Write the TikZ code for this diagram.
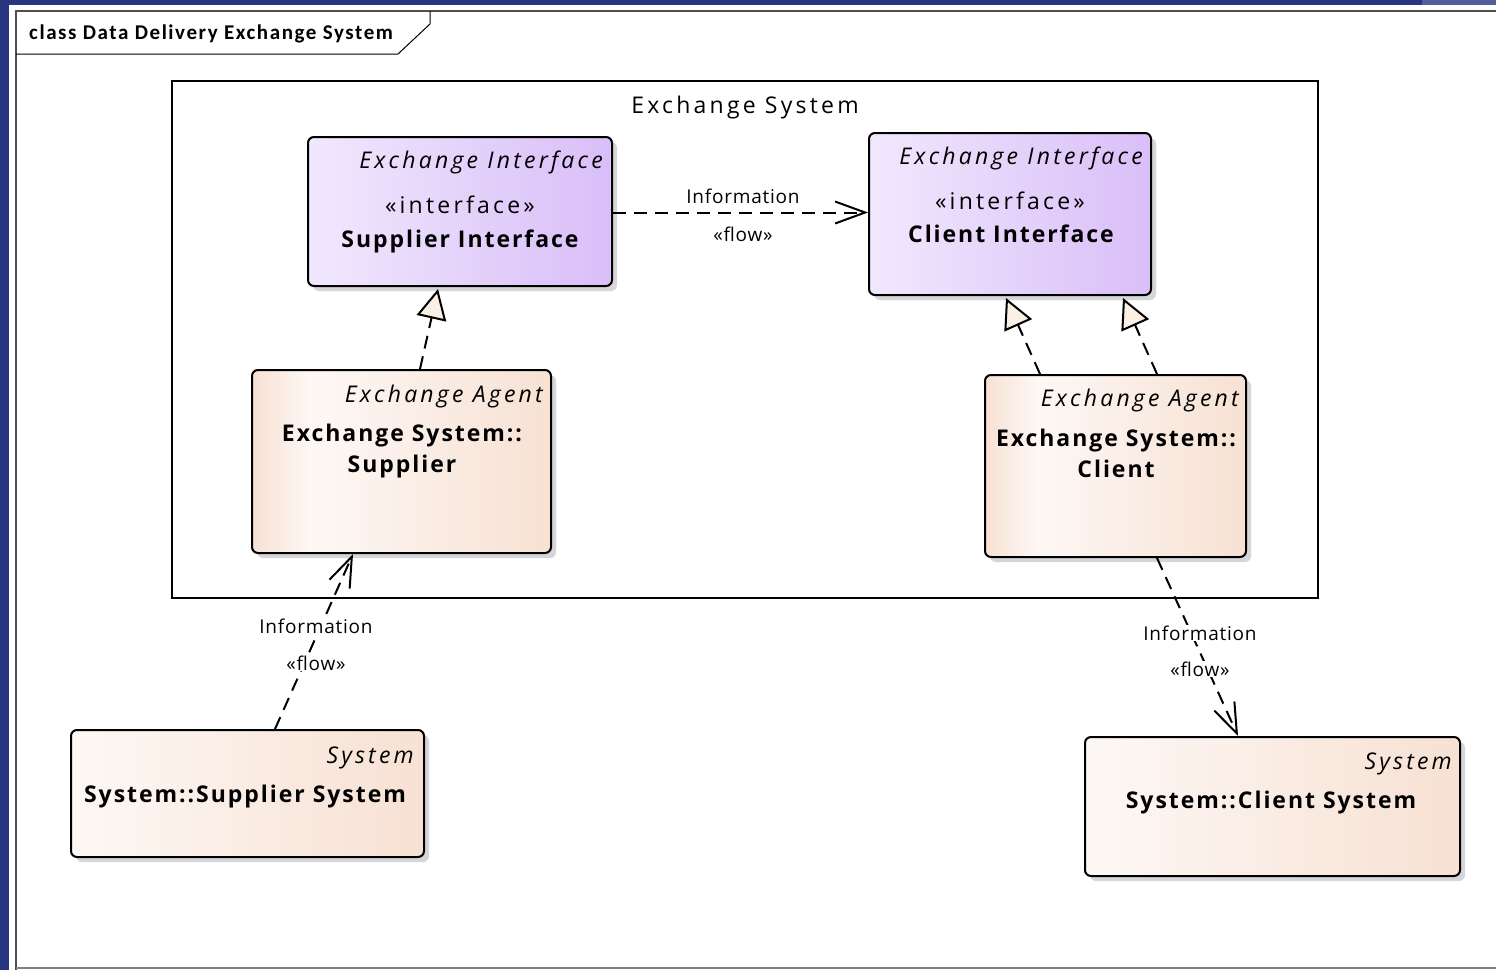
\documentclass[tikz,border=0pt]{standalone}
\usepackage{fontspec}
\setmainfont{Open Sans}[LetterSpace=14]
\newfontfamily\boldface{Open Sans}[LetterSpace=8.5]
\newfontfamily\labelface{Open Sans}[LetterSpace=4]
\newfontfamily\titlefont{Carlito}[LetterSpace=7.5]
\usetikzlibrary{arrows.meta,calc}

\definecolor{bandblue}{HTML}{283680}
\definecolor{ifL}{HTML}{F1E8FD}
\definecolor{ifR}{HTML}{D9BEF8}
\definecolor{pk}{HTML}{F7E1D3}
\definecolor{pkl}{HTML}{FDF8F5}
\definecolor{tricream}{HTML}{FAF0E3}
\definecolor{shadowgray}{HTML}{D6D6DA}
\definecolor{framegray}{HTML}{505050}

\pgfdeclarehorizontalshading{ifshade}{100bp}{color(0bp)=(ifL); color(25bp)=(ifL); color(75bp)=(ifR); color(100bp)=(ifR)}
\pgfdeclarehorizontalshading{agentshade}{100bp}{color(0bp)=(pk); color(25bp)=(pk); color(35bp)=(pkl); color(75bp)=(pk); color(100bp)=(pk)}
\pgfdeclarehorizontalshading{sysshade}{100bp}{color(0bp)=(pkl); color(25bp)=(pkl); color(75bp)=(pk); color(100bp)=(pk)}

\tikzset{
  elem/.style={draw=black, line width=2pt, rounded corners=6pt, anchor=north west,
    inner sep=0pt, preaction={fill=shadowgray, transform canvas={shift={(5pt,-5pt)}}}},
  ifbox/.style={elem, shading=ifshade},
  agentbox/.style={elem, shading=agentshade},
  sysbox/.style={elem, shading=sysshade},
  kind/.style={font=\fontsize{23}{27}\selectfont\itshape, inner sep=0pt, anchor=base east},
  stereo/.style={font=\fontsize{23}{27}\selectfont, inner sep=0pt, anchor=base},
  elname/.style={font=\boldface\fontsize{23}{31}\selectfont\bfseries, inner sep=0pt, anchor=base, align=center},
  flowlbl/.style={font=\labelface\fontsize{19}{22}\selectfont, fill=white, inner sep=1pt},
  dep/.style={line width=2pt, dash pattern=on 13pt off 8pt},
  flow/.style={dep, -{Straight Barb[length=30pt, width=22pt, line width=2pt]}},
  realize/.style={dep, -{Triangle[length=30pt, width=30pt, fill=tricream, line width=2pt]}},
}

\begin{document}
\begin{tikzpicture}[x=1pt, y=-1pt]
  \useasboundingbox (0,0) rectangle (1496,970);
  \fill[white] (0,0) rectangle (1496,970);

  % window edges
  \fill[bandblue] (0,0) rectangle (1496,5);
  \fill[bandblue!80!white] (1422,0) rectangle (1496,5);
  \fill[bandblue] (0,0) rectangle (9,970);

  % diagram frame and its name tab
  \draw[framegray, line width=2pt] (16,970) -- (16,11) -- (1496,11);
  \draw[gray, line width=2pt] (16,968) -- (1496,968);
  \draw[black, line width=1pt] (16,54) -- (398,54) -- (430,24) -- (430,11);
  \node[font=\titlefont\fontsize{21}{24}\selectfont\bfseries, anchor=base west, inner sep=0pt]
    (title) at (29,39) {class Data Delivery Exchange System};

  % system boundary
  \node[draw=black, line width=2pt, anchor=north west, inner sep=0pt,
        minimum width=1146pt, minimum height=517pt] (es) at (171,80) {};
  \node[stereo] (eslbl) at (745,113) {Exchange System};

  % interfaces
  \node[ifbox, minimum width=304pt, minimum height=149pt] (si) at (307,136) {};
  \node[kind] (sik) at (603,168) {Exchange Interface};
  \node[stereo] (sis) at (460,213) {«interface»};
  \node[elname] (sin) at (460,247) {Supplier Interface};

  \node[ifbox, minimum width=282pt, minimum height=162pt] (ci) at (868,132) {};
  \node[kind] (cik) at (1143,164) {Exchange Interface};
  \node[stereo] (cis) at (1010,209) {«interface»};
  \node[elname] (cin) at (1011,242) {Client Interface};

  % agents (two-line names sit on the baseline of their last line)
  \node[agentbox, minimum width=299pt, minimum height=183pt] (sup) at (251,369) {};
  \node[kind] (supk) at (543,402) {Exchange Agent};
  \node[elname] (supn) at (402,472) {Exchange System::\\Supplier};

  \node[agentbox, minimum width=261pt, minimum height=182pt] (cli) at (984,374) {};
  \node[kind] (clik) at (1239,406) {Exchange Agent};
  \node[elname] (clin) at (1116,477) {Exchange System::\\Client};

  % external systems
  \node[sysbox, minimum width=353pt, minimum height=127pt] (ss) at (70,729) {};
  \node[kind] (ssk) at (414,763) {System};
  \node[elname] (ssn) at (245,802) {System::Supplier System};

  \node[sysbox, minimum width=375pt, minimum height=139pt] (cs) at (1084,736) {};
  \node[kind] (csk) at (1452,769) {System};
  \node[elname] (csn) at (1271,808) {System::Client System};

  % realizations
  \draw[realize] ([xshift=169pt]sup.north west) -- ([xshift=131pt, yshift=-2pt]si.south west);
  \draw[realize] ([xshift=56pt]cli.north west) -- ([xshift=138pt, yshift=-2pt]ci.south west);
  \draw[realize] ([xshift=173pt]cli.north west) -- ([xshift=255pt, yshift=-2pt]ci.south west);

  % information flows
  \draw[flow] ([yshift=-1pt]si.east) -- ([yshift=-1pt]si.east -| ci.west);
  \node[flowlbl] (f1a) at (743,196) {Information};
  \node[flowlbl] (f1b) at (743,234) {«flow»};

  \draw[flow] ([xshift=205pt]ss.north west) -- ([xshift=102pt]sup.south west);
  \node[flowlbl] (f2a) at (316,626) {Information};
  \node[flowlbl] (f2b) at (316,663) {«flow»};

  \draw[flow] ([xshift=173pt]cli.south west) -- ([xshift=154pt]cs.north west);
  \node[flowlbl] (f3a) at (1200,633) {Information};
  \node[flowlbl] (f3b) at (1200,669) {«flow»};
\end{tikzpicture}
\end{document}
